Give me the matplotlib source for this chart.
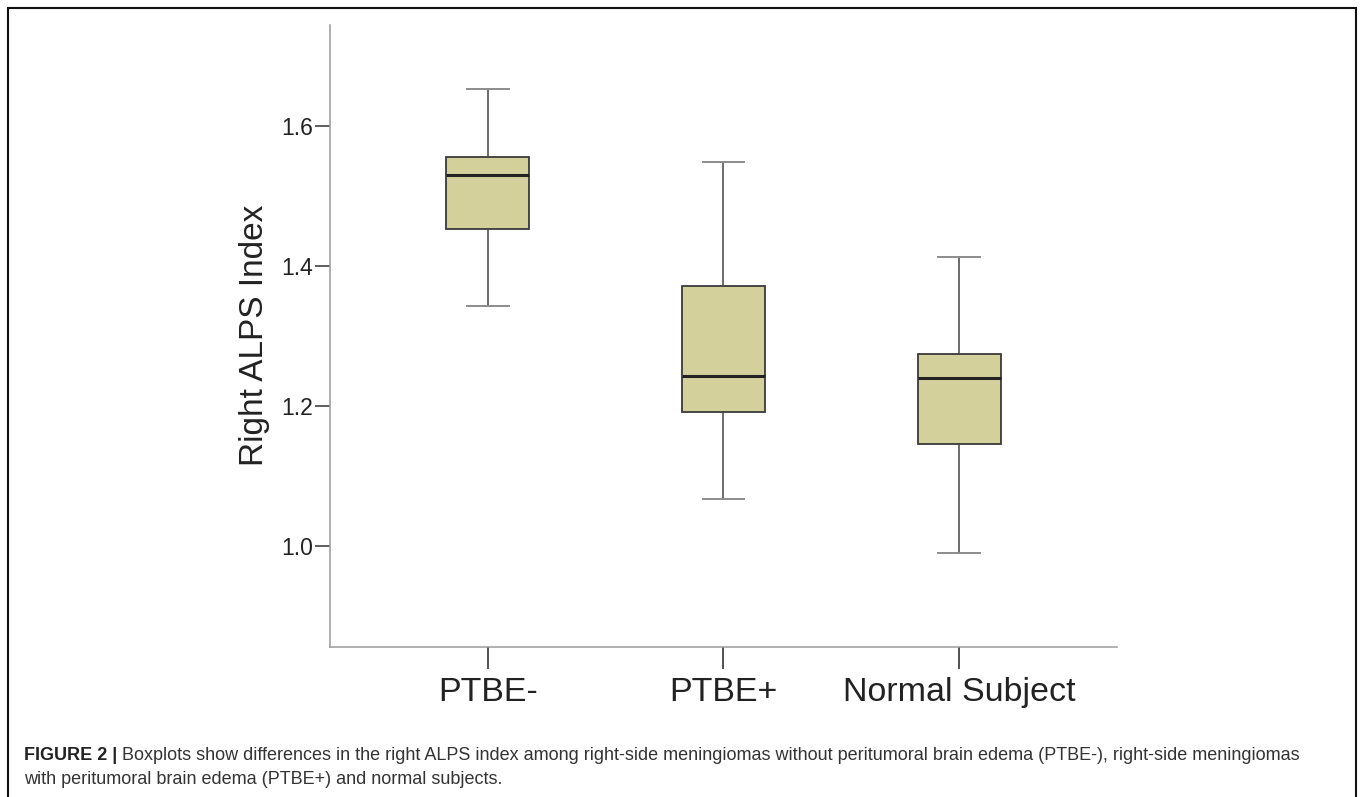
import matplotlib.pyplot as plt
from matplotlib.patches import Rectangle

# values
groups = ['PTBE-', 'PTBE+', 'Normal Subject']
whisker_low = [1.343, 1.067, 0.989]
q1 = [1.452, 1.191, 1.145]
median = [1.530, 1.243, 1.239]
q3 = [1.556, 1.371, 1.274]
whisker_high = [1.652, 1.549, 1.413]
yticks = [1.0, 1.2, 1.4, 1.6]

BOX_FILL = '#d3d09c'
plt.rcParams['font.family'] = ['Liberation Sans', 'DejaVu Sans']

fig = plt.figure(figsize=(13.6, 7.97), dpi=100)
ax = fig.add_axes([0.2426, 0.1888, 0.5787, 0.7798])

stats = []
for i, name in enumerate(groups):
    stats.append({'label': name, 'whislo': whisker_low[i], 'q1': q1[i],
                  'med': median[i], 'q3': q3[i], 'whishi': whisker_high[i]})

ax.bxp(stats, positions=range(len(groups)), widths=0.353, patch_artist=True,
       showfliers=False,
       boxprops=dict(facecolor=BOX_FILL, edgecolor='#3a3a3a', linewidth=1.3),
       medianprops=dict(color='#222222', linewidth=2.2),
       whiskerprops=dict(color='#444444', linewidth=1.1),
       capprops=dict(color='#8c8c8c', linewidth=1.4),
       capwidths=0.177)

ax.set_xlim(-0.669, 2.669)
ax.set_ylim(0.856, 1.744)
ax.set_yticks(yticks)
ax.set_yticklabels(['%.1f' % v for v in yticks])

for side in ['top', 'right']:
    ax.spines[side].set_visible(False)
for side in ['left', 'bottom']:
    ax.spines[side].set_color('#9a9a9a')
    ax.spines[side].set_linewidth(1.1)

ax.tick_params(axis='y', length=11, width=1.1, color='#333333', pad=1,
               labelsize=16.5, labelcolor='#222222')
ax.tick_params(axis='x', length=16, width=1.2, color='#333333', pad=6,
               labelsize=24.5, labelcolor='#222222')
ax.set_ylabel('Right ALPS Index', fontsize=24, color='#222222', labelpad=8)

# outer frame around the figure panel
fig.patches.append(Rectangle((8 / 1360, -0.05), 1348 / 1360, 1.05 - 8 / 797,
                             transform=fig.transFigure, fill=False,
                             edgecolor='#111111', linewidth=1.5, clip_on=False))

# caption
cap_size = 13.0
y1 = 1 - 755 / 797
y2 = 1 - 779 / 797
head = fig.text(24 / 1360, y1, 'FIGURE 2 |', fontsize=cap_size, fontweight='bold',
                va='center', color='#222222')
renderer = fig.canvas.get_renderer()
bb = head.get_window_extent(renderer)
fig.text((bb.x1 + 5) / 1360, y1,
         'Boxplots show differences in the right ALPS index among right-side meningiomas '
         'without peritumoral brain edema (PTBE-), right-side meningiomas',
         fontsize=cap_size, va='center', color='#333333')
fig.text(24 / 1360, y2,
         'with peritumoral brain edema (PTBE+) and normal subjects.',
         fontsize=cap_size, va='center', color='#333333')

fig.savefig('out.png', dpi=100)
